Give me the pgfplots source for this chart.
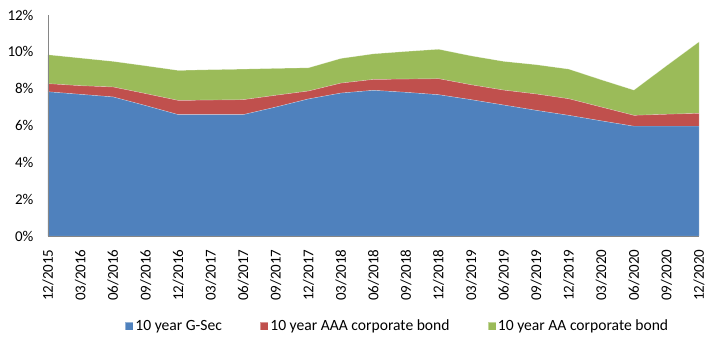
\documentclass[border=0pt]{standalone}
\usepackage{pgfplots}
\pgfplotsset{compat=1.18}
\usepackage{pgfplotstable}
\usepackage{fontspec}
\setmainfont{Carlito}
\definecolor{cblue}{HTML}{4F81BD}
\definecolor{cred}{HTML}{C0504D}
\definecolor{cgreen}{HTML}{9BBB59}
\definecolor{axgray}{HTML}{868686}
\pgfplotstableread{
x gsec aaa aa
0  7.83 0.44 1.57
1  7.69 0.47 1.50
2  7.55 0.54 1.39
3  7.08 0.65 1.51
4  6.59 0.77 1.63
5  6.59 0.79 1.65
6  6.59 0.81 1.66
7  7.00 0.64 1.46
8  7.44 0.43 1.26
9  7.76 0.54 1.34
10 7.91 0.59 1.39
11 7.80 0.72 1.50
12 7.67 0.87 1.60
13 7.40 0.81 1.57
14 7.11 0.81 1.56
15 6.82 0.89 1.59
16 6.55 0.90 1.61
17 6.25 0.75 1.48
18 5.96 0.59 1.37
19 5.96 0.65 2.63
20 5.96 0.70 3.88
}\datatable
\begin{document}
\begin{tikzpicture}
\useasboundingbox (-48pt,-116pt) rectangle (672pt,236pt);
\begin{axis}[
  at={(0pt,0pt)}, anchor=south west,
  scale only axis,
  width=651pt, height=221pt,
  xmin=0, xmax=20, ymin=0, ymax=12,
  stack plots=y,
  area style,
  axis x line*=bottom, axis y line*=left,
  axis line style={draw=axgray, line width=0.8pt},
  x axis line style={-}, y axis line style={-},
  xtick={0,...,20},
  xticklabels={12/2015,03/2016,06/2016,09/2016,12/2016,03/2017,06/2017,09/2017,12/2017,03/2018,06/2018,09/2018,12/2018,03/2019,06/2019,09/2019,12/2019,03/2020,06/2020,09/2020,12/2020},
  ytick={0,2,...,12},
  yticklabel={\pgfmathprintnumber{\tick}\%},
  /pgf/number format/assume math mode=true,
  major tick length=0pt,
  xticklabel shift=10pt,
  yticklabel shift=11pt,
  tick label style={font=\fontsize{15}{18}\selectfont, text=black},
  x tick label style={rotate=90, anchor=east},
  legend columns=3,
  legend style={at={(0.537,-0.407)}, anchor=center, draw=none, fill=none,
    font=\fontsize{15.6}{18}\selectfont,
    /tikz/every even column/.append style={column sep=36pt}},
  legend image code/.code={\fill[#1] (0pt,-4pt) rectangle (8pt,4pt);},
]
\addplot[fill=cblue, draw=white, draw opacity=0.4, line width=0.4pt] table[x=x,y=gsec]{\datatable} \closedcycle;
\addlegendentry{10 year G-Sec}
\addplot[fill=cred, draw=white, draw opacity=0.4, line width=0.4pt] table[x=x,y=aaa]{\datatable} \closedcycle;
\addlegendentry{10 year AAA corporate bond}
\addplot[fill=cgreen, draw=white, draw opacity=0.4, line width=0.4pt] table[x=x,y=aa]{\datatable} \closedcycle;
\addlegendentry{10 year AA corporate bond}
\end{axis}
\end{tikzpicture}
\end{document}
